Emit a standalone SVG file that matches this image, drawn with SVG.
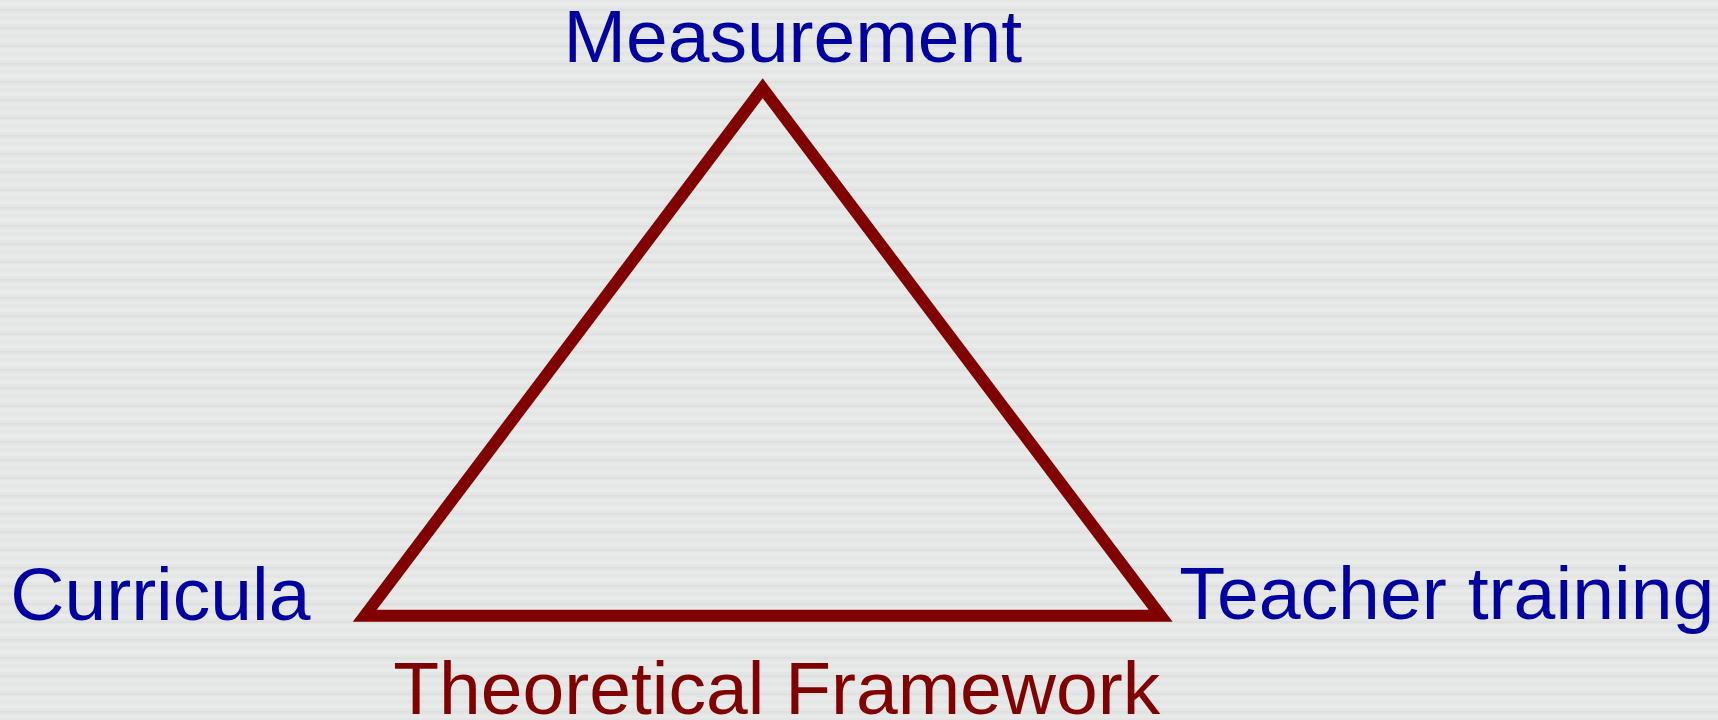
<svg xmlns="http://www.w3.org/2000/svg" width="1718" height="720" viewBox="0 0 1718 720">
  <defs>
    <pattern id="stripes" x="0" y="0" width="1718" height="18" patternUnits="userSpaceOnUse">
      <rect width="1718" height="18" fill="#e3e6e5"/>
      <rect y="2" width="1718" height="4" fill="#e9ebea"/>
      <rect y="9" width="1718" height="2" fill="#dee1e0"/>
      <rect y="13" width="1718" height="3" fill="#e8eae9"/>
    </pattern>
    <style>
      .label { font-family: "Liberation Sans", Arial, sans-serif; font-size: 75px; }
      .blue { fill: #0000a0; }
      .red { fill: #800000; }
      .tri { fill: none; stroke: #800000; stroke-width: 12; stroke-linejoin: miter; stroke-miterlimit: 10; }
    </style>
  </defs>
  <rect width="1718" height="720" fill="url(#stripes)"/>
  <g id="connectors">
    <polygon class="tri" points="762.7,88.3 1160.6,615.7 364.8,615.7"/>
  </g>
  <g id="node-measurement">
    <text class="label blue" x="563.5" y="61.7">Measurement</text>
  </g>
  <g id="node-curricula">
    <text class="label blue" x="10.3" y="619.8">Curricula</text>
  </g>
  <g id="node-teacher-training">
    <text class="label blue" x="1179.3" y="618.5" textLength="535" lengthAdjust="spacingAndGlyphs">Teacher training</text>
  </g>
  <g id="node-theoretical-framework">
    <text class="label red" x="393.3" y="714">Theoretical Framework</text>
  </g>
</svg>
